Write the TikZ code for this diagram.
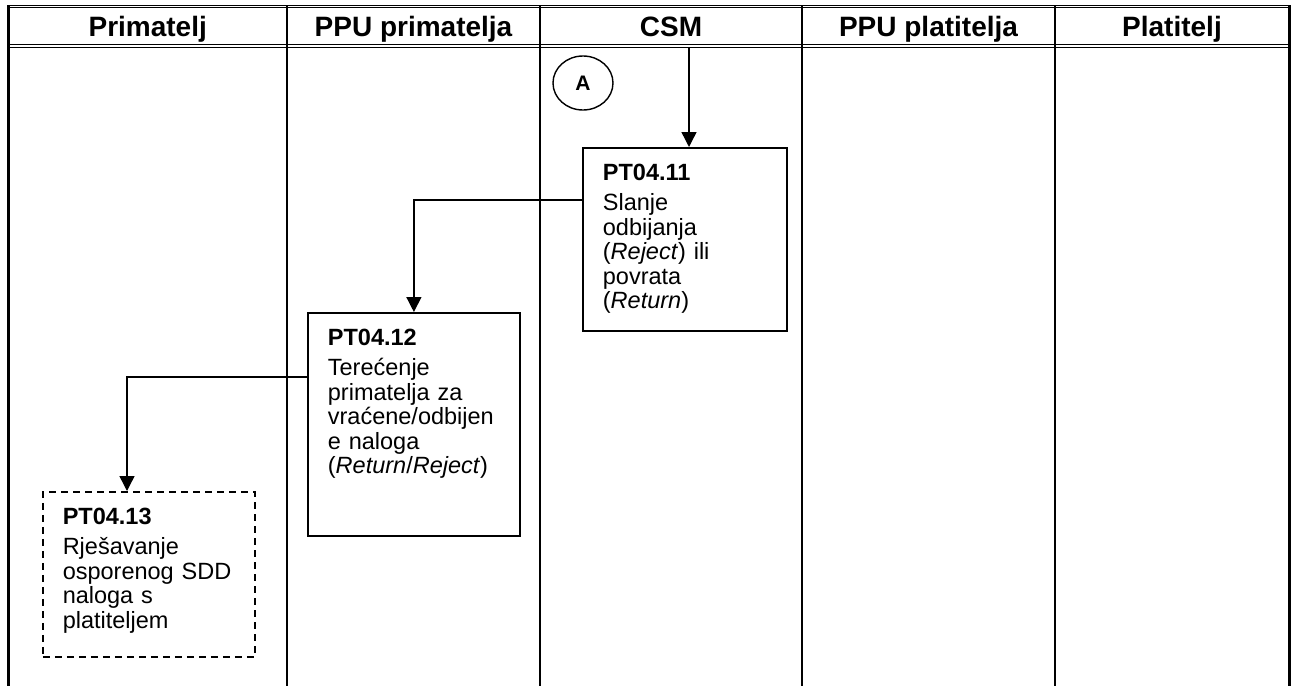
\documentclass[tikz,border=0pt]{standalone}
\usepackage{fontspec}
\setmainfont{Liberation Sans}
\usepackage{tikz}
\usetikzlibrary{arrows.meta,shapes.geometric,positioning,calc}

\tikzset{
    lanehead/.style={anchor=base, inner sep=0pt, font=\fontsize{28}{30}\selectfont\bfseries},
    lane/.style={line width=1.8pt},
    border/.style={line width=3pt},
    headline/.style={double, double distance=1.5pt, line width=1.2pt},
    task/.style={draw, line width=1.8pt, anchor=north west, align=left, inner xsep=20pt, inner ysep=0pt,
        text width=172pt, text height=33pt, font=\fontsize{23.5}{24.5}\selectfont},
    optask/.style={task, line width=1.5pt, dash pattern=on 7pt off 5pt},
    connector/.style={draw, ellipse, line width=1.4pt, minimum width=60pt, minimum height=54pt,
        inner sep=0pt, font=\fontsize{21}{21}\selectfont\bfseries},
    flow/.style={line width=1.4pt, -{Triangle[width=15pt,length=15pt]}}
}

\begin{document}
\begin{tikzpicture}[x=1pt,y=-1pt]
    \useasboundingbox (0,0) rectangle (1291,686);

    \draw[headline] (8.5,6.5) -- (1289,6.5);
    \draw[headline] (8.5,46) -- (1289,46);
    \foreach \x in {287,540,802,1055}
        \draw[lane] (\x,5) -- (\x,686);
    \draw[border] (8.5,5) -- (8.5,686);
    \draw[border] (1289,5) -- (1289,686);

    \foreach \xl/\xr/\lbl/\nm in {8.5/287/Primatelj/prim, 287/540/PPU primatelja/ppuprim,
        540/802/CSM/csm, 802/1055/PPU platitelja/ppuplat, 1055/1289/Platitelj/plat}
        \node[lanehead] (head-\nm) at ({(\xl+\xr)/2},36) {\lbl};

    \node[connector] (conA) at (583,83) {A};

    \node[task, text width=164pt, text depth=150pt] (pt11) at (582,147)
        {\textbf{PT04.11}\\[5.5pt] Slanje\\ odbijanja\\ (\textit{Reject}) ili\\ povrata\\ (\textit{Return})};
    \node[task, text depth=190pt] (pt12) at (307,312)
        {\textbf{PT04.12}\\[5.5pt] Terećenje\\ primatelja za\\ vraćene/odbijen\\ e naloga\\ (\textit{Return}/\textit{Reject})};
    \node[optask, text depth=132pt] (pt13) at (42,491)
        {\textbf{PT04.13}\\[5.5pt] Rješavanje\\ osporenog SDD\\ naloga s\\ platiteljem};

    \coordinate (csmin) at (689,48);
    \draw[flow] (csmin) -- (csmin |- pt11.north);
    \draw[flow] ($(pt11.north west)+(0,53)$) -| (pt12.north);
    \draw[flow] ($(pt12.north west)+(0,65)$) -| ($(pt13.north west)+(85,0)$);
\end{tikzpicture}
\end{document}
